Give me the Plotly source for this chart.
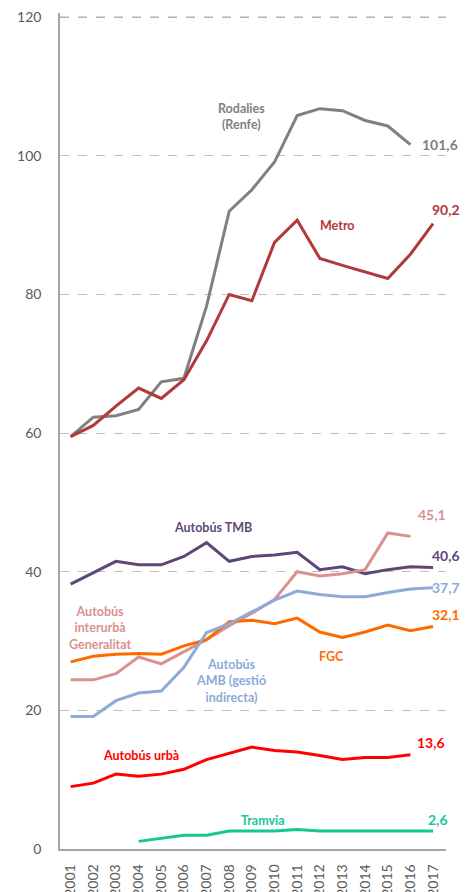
import plotly.graph_objects as go

years = list(range(2001, 2018))

rodalies = [59.5, 62.3, 62.5, 63.4, 67.4, 67.9, 78.3, 92.0, 95.1, 99.1, 105.8, 106.8, 106.5, 105.1, 104.3, 101.6]
metro = [59.5, 61.1, 63.9, 66.5, 65.0, 67.7, 73.3, 80.0, 79.1, 87.5, 90.7, 85.2, 84.2, 83.3, 82.3, 85.8, 90.2]
bus_tmb = [38.2, 39.8, 41.5, 41.0, 41.0, 42.2, 44.2, 41.5, 42.2, 42.4, 42.8, 40.3, 40.7, 39.7, 40.3, 40.7, 40.6]
bus_interurba = [24.4, 24.4, 25.3, 27.7, 26.7, 28.5, 30.2, 32.2, 34.0, 36.0, 40.0, 39.4, 39.7, 40.3, 45.6, 45.1]
fgc = [27.0, 27.8, 28.1, 28.2, 28.1, 29.3, 30.2, 32.8, 33.0, 32.5, 33.3, 31.3, 30.5, 31.3, 32.3, 31.5, 32.1]
bus_amb = [19.1, 19.1, 21.4, 22.5, 22.8, 26.2, 31.2, 32.5, 34.2, 35.9, 37.2, 36.7, 36.4, 36.4, 37.0, 37.5, 37.7]
bus_urba = [9.0, 9.5, 10.8, 10.5, 10.8, 11.5, 12.9, 13.8, 14.7, 14.2, 14.0, 13.5, 12.9, 13.2, 13.2, 13.6]
tram_years = list(range(2004, 2018))
tramvia = [1.1, 1.5, 2.0, 2.0, 2.6, 2.6, 2.6, 2.8, 2.6, 2.6, 2.6, 2.6, 2.6, 2.6]

y_ticks = [0, 20, 40, 60, 80, 100, 120]

FONT = "Lato"
YEAR_PX = 22.65  # width of one year on the x axis, pixels
GRID = "#BFBFBF"

series = [
    ("Rodalies", years[:len(rodalies)], rodalies, "#808080"),
    ("Metro", years, metro, "#B0393B"),
    ("Autobús TMB", years, bus_tmb, "#5E4777"),
    ("Autobús interurbà", years[:len(bus_interurba)], bus_interurba, "#D8928F"),
    ("FGC", years, fgc, "#FF6A00"),
    ("Autobús AMB", years, bus_amb, "#8DAAD8"),
    ("Autobús urbà", years[:len(bus_urba)], bus_urba, "#FF0000"),
    ("Tramvia", tram_years, tramvia, "#14C896"),
]

fig = go.Figure()
for name, xs, ys, color in series:
    fig.add_trace(go.Scatter(x=xs, y=ys, mode="lines", name=name,
                             line=dict(color=color, width=3)))

# (text, x, y, color, size); x past 2017 is drawn at 2017 with a pixel shift
labels = [
    ("Rodalies<br>(Renfe)", 2008.53, 105.6, "#808080", 12.5),
    ("101,6", 2017.3, 101.7, "#808080", 14),
    ("Metro", 2012.77, 89.9, "#B0393B", 12.5),
    ("90,2", 2017.55, 92.3, "#B0393B", 14),
    ("Autobús TMB", 2007.3, 46.4, "#5E4777", 12.5),
    ("45,1", 2016.97, 48.2, "#D8928F", 14),
    ("40,6", 2017.55, 42.4, "#5E4777", 14),
    ("37,7", 2017.57, 37.7, "#8DAAD8", 14),
    ("32,1", 2017.55, 33.8, "#FF6A00", 14),
    ("Autobús<br>interurbà<br>Generalitat", 2002.3, 31.9, "#D8928F", 12.5),
    ("FGC", 2012.5, 27.7, "#FF6A00", 12.5),
    ("Autobús<br>AMB (gestió<br>indirecta)", 2008.06, 24.2, "#8DAAD8", 12.5),
    ("Autobús urbà", 2004.1, 13.5, "#FF0000", 12.5),
    ("13,6", 2016.9, 15.4, "#FF0000", 14),
    ("Tramvia", 2009.5, 4.1, "#14C896", 12.5),
    ("2,6", 2017.2, 4.2, "#14C896", 14),
]
for text, x, y, color, size in labels:
    shift = 0
    if x > 2017:
        shift = (x - 2017) * YEAR_PX
        x = 2017
    fig.add_annotation(x=x, y=y, xshift=shift, text=f"<b>{text}</b>", showarrow=False,
                       font=dict(family=FONT, size=size, color=color),
                       xanchor="center", yanchor="middle")

# plotly drops the gridline at the top edge, so draw that one by hand
fig.add_shape(type="line", xref="x domain", yref="y", x0=0, x1=1,
              y0=y_ticks[-1], y1=y_ticks[-1],
              line=dict(color="#B0B0B0", width=1.2, dash="dash"), layer="above")

# the html page has an 8px body margin, so the figure is drawn 8px in
fig.update_layout(
    width=461, height=884,
    margin=dict(l=52, r=23, t=5, b=43),
    paper_bgcolor="white", plot_bgcolor="white",
    showlegend=False,
    font=dict(family=FONT, color="#595959"),
)
fig.update_xaxes(
    range=[2000.53, 2017.57], tickvals=years, ticktext=[str(y) for y in years],
    tickangle=-90, showgrid=False, zeroline=False, automargin=False,
    showline=True, linecolor="#A6A6A6", linewidth=1.5,
    tickfont=dict(family=FONT, size=14, color="#595959"), ticklabelstandoff=8,
)
fig.update_yaxes(
    range=[0, 120.6], tickvals=y_ticks,
    showgrid=True, gridcolor=GRID, griddash="dash", gridwidth=1,
    zeroline=False, automargin=False, ticklabeloverflow="allow",
    showline=True, linecolor="#A6A6A6", linewidth=1.5,
    tickfont=dict(family=FONT, size=14, color="#595959"), ticklabelstandoff=14,
)

fig.write_html("out.html")
